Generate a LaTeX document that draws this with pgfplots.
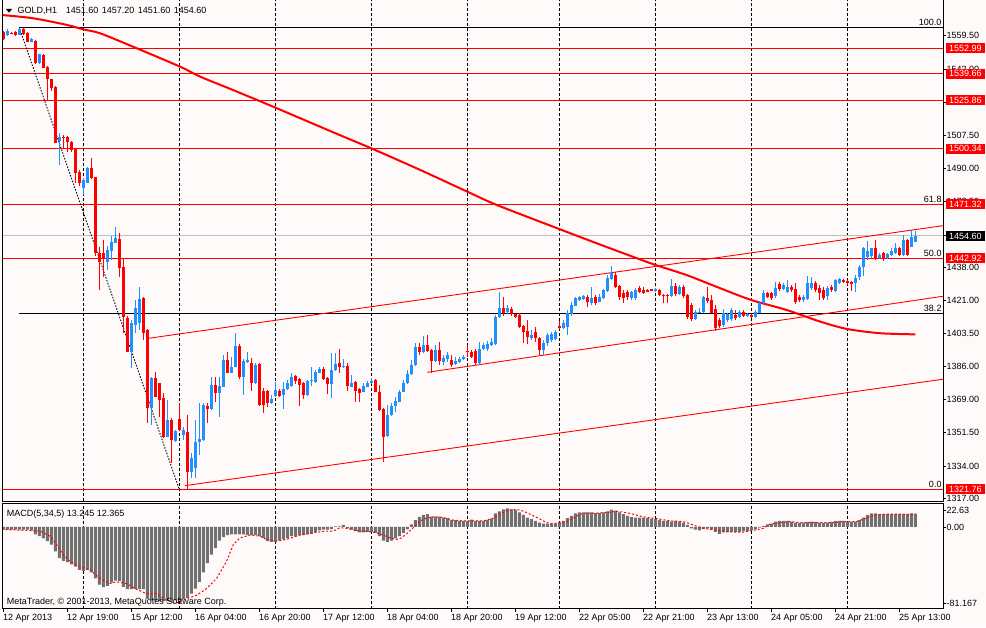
\documentclass[border=0pt]{standalone}
\usepackage{fontspec}
\setmainfont{Liberation Sans}
\usepackage{pgfplots}
\pgfplotsset{compat=1.18}
\usepackage{pgfplotstable}
\newcommand\mtf{\fontsize{9}{10}\selectfont}
\definecolor{bg}{RGB}{255,250,250}
\definecolor{upc}{RGB}{30,144,255}
\definecolor{dnc}{RGB}{255,0,0}
\definecolor{histc}{RGB}{112,112,112}
\definecolor{bidc}{RGB}{192,192,192}

\pgfplotstableread{
i o h l c
1 1559.9 1562.9 1559.4 1562.0
4 1559.9 1563.8 1559.9 1562.9
7 1556.2 1558.2 1556.2 1557.7
9 1545.1 1550.0 1544.7 1549.8
14 1504.4 1508.4 1491.8 1506.6
20 1479.6 1485.0 1476.1 1483.9
21 1482.5 1490.7 1482.4 1490.0
26 1441.1 1449.3 1436.8 1447.2
27 1446.9 1454.6 1442.0 1451.6
28 1451.0 1459.4 1450.7 1453.4
32 1394.0 1410.6 1385.2 1408.8
33 1407.9 1421.0 1403.6 1416.7
34 1408.8 1428.0 1405.3 1421.6
37 1364.3 1380.8 1355.5 1380.0
41 1349.4 1368.6 1349.2 1358.1
43 1347.3 1352.9 1346.8 1352.5
45 1350.3 1354.6 1347.7 1352.9
47 1331.0 1340.8 1327.6 1338.1
48 1333.0 1358.1 1327.6 1346.8
49 1346.8 1366.9 1339.8 1348.0
50 1347.7 1366.9 1347.1 1366.0
52 1363.7 1380.8 1363.4 1376.5
54 1372.1 1380.8 1359.9 1375.9
55 1375.6 1392.2 1375.4 1389.6
57 1382.9 1391.0 1382.8 1386.1
58 1386.1 1403.6 1385.9 1396.9
60 1380.8 1390.1 1371.3 1389.1
61 1388.7 1393.9 1388.0 1389.6
63 1377.6 1387.9 1377.0 1387.0
67 1367.2 1371.3 1366.5 1369.3
68 1370.7 1378.2 1370.2 1373.9
70 1371.3 1378.2 1363.7 1374.2
71 1374.4 1379.1 1373.9 1377.4
72 1375.9 1382.6 1375.4 1380.8
76 1371.3 1379.1 1370.7 1378.7
77 1378.6 1386.1 1376.1 1379.1
78 1378.2 1384.4 1377.5 1383.4
79 1382.9 1386.1 1382.8 1384.7
82 1377.0 1393.1 1369.8 1384.4
83 1384.4 1393.1 1383.8 1387.5
85 1385.8 1390.1 1385.4 1386.6
87 1375.6 1381.7 1375.4 1377.7
90 1372.9 1377.4 1372.8 1375.9
91 1375.6 1378.6 1375.4 1377.4
92 1377.4 1380.0 1377.0 1378.7
96 1349.9 1366.0 1349.2 1360.8
97 1360.8 1366.9 1360.2 1365.5
98 1365.5 1370.0 1362.5 1368.1
99 1367.7 1373.9 1367.6 1372.9
100 1372.9 1379.1 1372.8 1377.7
101 1377.4 1384.4 1377.0 1382.2
102 1382.2 1389.6 1381.7 1387.0
103 1387.0 1398.3 1386.4 1396.2
105 1393.8 1402.2 1393.3 1397.4
108 1389.1 1397.4 1388.5 1394.8
110 1388.7 1392.2 1387.0 1390.8
111 1390.1 1393.8 1388.5 1392.2
113 1387.3 1391.2 1387.0 1389.1
114 1388.4 1391.2 1388.0 1390.1
115 1390.1 1392.2 1389.6 1391.3
119 1387.9 1399.2 1387.0 1395.2
120 1395.2 1398.5 1394.8 1397.4
121 1395.4 1399.5 1394.3 1397.8
122 1397.4 1401.1 1396.9 1399.2
123 1397.8 1413.2 1397.4 1412.3
124 1412.3 1425.1 1411.6 1416.7
126 1414.6 1418.4 1413.7 1416.7
132 1401.3 1405.3 1400.1 1402.7
135 1394.8 1400.1 1392.2 1398.3
136 1398.3 1403.7 1396.9 1402.7
137 1400.1 1404.3 1399.2 1403.0
138 1400.6 1405.3 1400.1 1404.1
140 1406.5 1410.6 1405.8 1408.8
141 1407.0 1415.8 1402.7 1414.0
142 1413.5 1420.0 1412.6 1418.4
143 1418.0 1422.6 1417.9 1421.9
144 1421.0 1423.1 1420.5 1422.8
145 1421.6 1423.6 1421.0 1423.1
147 1419.6 1427.8 1418.4 1422.2
149 1420.2 1424.2 1419.9 1422.8
150 1422.2 1426.8 1421.5 1426.3
151 1425.8 1434.1 1425.2 1432.7
152 1432.0 1439.0 1431.5 1435.0
157 1421.9 1425.8 1421.0 1425.2
158 1422.1 1427.3 1421.0 1426.3
163 1425.9 1427.3 1425.2 1426.6
167 1423.3 1432.2 1422.6 1428.4
169 1424.2 1428.9 1423.6 1428.0
173 1410.9 1415.8 1410.6 1414.6
174 1414.4 1416.8 1414.2 1414.9
175 1414.9 1423.1 1414.4 1422.4
180 1407.9 1416.2 1406.9 1414.1
181 1410.6 1414.2 1409.5 1413.7
182 1410.9 1416.7 1410.0 1415.8
184 1412.3 1415.8 1411.6 1414.9
186 1412.6 1414.2 1412.1 1413.5
188 1412.3 1415.8 1411.6 1414.9
189 1414.4 1420.5 1414.2 1419.6
190 1419.6 1426.3 1418.9 1424.5
193 1423.1 1430.4 1422.1 1427.1
195 1426.6 1430.0 1426.3 1428.9
196 1425.2 1431.5 1424.7 1427.8
200 1421.0 1423.6 1420.0 1422.8
201 1421.6 1433.6 1421.0 1429.8
202 1427.3 1433.1 1426.3 1429.8
206 1423.1 1428.4 1421.0 1427.1
208 1425.9 1432.0 1425.2 1431.5
209 1430.1 1432.5 1429.4 1431.9
213 1429.8 1434.1 1425.2 1432.4
214 1433.1 1439.4 1431.5 1438.3
215 1438.5 1448.8 1433.6 1448.1
216 1443.7 1452.0 1442.0 1446.9
217 1444.1 1448.3 1443.0 1448.1
219 1442.9 1445.7 1442.5 1444.6
221 1443.0 1445.7 1442.5 1445.1
222 1444.5 1448.3 1444.1 1446.9
223 1445.5 1450.9 1445.1 1448.1
225 1444.6 1455.1 1444.1 1452.5
227 1449.0 1457.7 1448.8 1453.9
228 1451.6 1457.2 1451.6 1454.6
}\upbars

\pgfplotstableread{
i o h l c
0 1561.6 1562.0 1557.3 1557.7
2 1561.1 1561.5 1560.2 1560.4
3 1561.5 1562.0 1559.4 1560.1
5 1562.9 1563.4 1559.9 1560.6
6 1561.1 1561.5 1556.2 1556.4
8 1557.0 1557.3 1544.7 1545.1
10 1549.4 1549.7 1542.6 1542.8
11 1543.3 1543.7 1525.8 1536.9
12 1536.9 1536.9 1530.7 1532.0
13 1532.5 1533.2 1503.3 1503.5
15 1506.6 1507.5 1500.7 1505.8
16 1506.6 1507.0 1498.8 1503.7
17 1503.7 1504.4 1498.6 1499.7
18 1500.0 1500.7 1482.4 1487.4
19 1488.3 1489.2 1480.8 1482.2
22 1490.0 1495.3 1484.4 1484.8
23 1485.5 1485.7 1444.1 1445.8
24 1445.8 1448.8 1426.3 1441.1
25 1445.7 1452.5 1433.2 1443.0
29 1453.0 1456.0 1433.2 1437.6
30 1438.5 1443.0 1403.6 1412.3
31 1411.5 1412.6 1393.8 1394.0
35 1422.2 1422.8 1400.1 1403.6
36 1405.3 1405.8 1356.4 1364.3
38 1380.0 1383.4 1370.2 1370.4
39 1377.4 1377.5 1359.9 1368.6
40 1369.5 1372.3 1348.7 1349.4
42 1358.1 1359.2 1335.4 1347.7
44 1358.7 1367.2 1352.4 1352.9
46 1352.0 1360.8 1321.8 1331.0
51 1365.5 1367.2 1356.7 1363.7
53 1376.5 1380.7 1367.7 1372.1
56 1389.6 1393.9 1382.8 1382.9
59 1396.9 1398.0 1379.5 1380.8
62 1388.2 1390.6 1373.3 1377.6
64 1387.3 1388.2 1365.5 1366.0
65 1373.5 1374.9 1362.0 1366.0
66 1373.5 1373.9 1364.8 1367.2
69 1373.3 1374.4 1370.2 1370.7
73 1381.2 1381.7 1376.8 1378.6
74 1379.5 1380.1 1365.5 1376.5
75 1377.4 1378.2 1369.1 1371.3
80 1384.7 1386.1 1379.1 1379.5
81 1380.0 1380.7 1371.6 1377.0
84 1387.9 1395.2 1382.9 1386.1
86 1386.6 1387.9 1373.3 1376.1
88 1378.0 1378.6 1367.7 1373.3
89 1374.2 1374.9 1367.7 1372.5
93 1379.1 1379.5 1372.8 1372.9
94 1372.9 1376.5 1362.9 1363.4
95 1363.7 1364.4 1336.3 1349.4
104 1396.2 1398.5 1392.2 1393.9
106 1397.4 1402.7 1393.8 1394.5
107 1394.8 1395.4 1382.8 1389.1
109 1394.8 1399.0 1387.0 1389.1
112 1389.6 1392.2 1385.9 1387.0
116 1394.3 1397.4 1391.2 1393.8
117 1393.8 1394.8 1390.6 1391.3
118 1394.5 1395.4 1387.0 1387.9
125 1416.7 1422.6 1412.6 1414.1
127 1416.3 1417.4 1412.6 1413.7
128 1413.7 1413.8 1411.6 1412.3
129 1413.2 1414.2 1406.4 1407.0
130 1407.4 1407.9 1398.3 1404.4
131 1404.8 1410.6 1398.0 1401.8
133 1404.1 1406.9 1399.0 1400.9
134 1400.9 1401.6 1392.2 1394.8
139 1407.6 1410.0 1405.8 1406.5
146 1422.8 1423.6 1417.4 1419.8
148 1422.4 1423.6 1418.4 1419.6
153 1434.1 1435.7 1427.3 1428.0
154 1428.5 1428.9 1421.0 1422.8
155 1424.5 1426.3 1419.5 1421.9
156 1425.0 1426.0 1421.0 1422.5
159 1427.1 1428.6 1424.7 1425.4
160 1426.3 1428.0 1424.2 1424.5
161 1426.3 1426.8 1425.2 1425.4
162 1426.6 1427.0 1425.5 1425.8
164 1426.3 1426.8 1423.1 1423.7
165 1423.7 1424.2 1419.3 1423.1
166 1423.7 1423.9 1419.5 1423.1
168 1428.4 1430.0 1423.1 1424.2
170 1428.0 1428.9 1422.1 1423.1
171 1423.7 1424.2 1411.1 1412.3
172 1418.4 1419.5 1410.0 1410.9
176 1421.9 1428.0 1419.5 1420.5
177 1421.0 1423.6 1414.1 1414.4
178 1416.2 1418.4 1404.8 1406.2
179 1410.6 1411.6 1406.4 1407.4
183 1413.2 1415.8 1410.6 1411.5
185 1414.9 1415.8 1412.1 1412.6
187 1413.3 1413.7 1411.6 1412.0
191 1424.5 1425.2 1422.1 1422.8
192 1424.5 1425.2 1421.0 1421.9
194 1429.2 1430.4 1425.7 1426.6
197 1427.8 1428.9 1425.2 1426.3
198 1426.8 1430.0 1419.0 1420.0
199 1422.6 1423.6 1420.0 1421.0
203 1429.8 1431.0 1425.2 1426.3
204 1427.1 1428.9 1421.0 1424.5
205 1426.3 1427.8 1421.0 1421.9
207 1428.0 1428.9 1425.2 1426.3
210 1431.5 1432.0 1430.0 1430.6
211 1431.2 1431.5 1428.9 1429.8
212 1430.6 1431.0 1425.9 1429.4
218 1448.1 1452.5 1442.0 1442.4
220 1445.5 1446.2 1441.5 1442.4
224 1448.1 1448.8 1444.1 1444.6
226 1452.5 1453.0 1444.1 1444.6
}\dnbars

\pgfplotstableread{
i m
0 -2.7
1 -2.7
2 -2.7
3 -2.7
4 -2.7
5 -2.7
6 -2.7
7 -3.3
8 -7.3
9 -9
10 -11.3
11 -14
12 -17.3
13 -24
14 -30.7
15 -33.3
16 -34.7
17 -36.7
18 -39
19 -42.3
20 -43.3
21 -42.3
22 -44.7
23 -50.7
24 -56.7
25 -59.3
26 -58
27 -54.7
28 -52.7
29 -53.3
30 -59
31 -61.3
32 -61.3
33 -61.3
34 -61.3
35 -61.3
36 -70.7
37 -72.3
38 -72.6
39 -73
40 -73.3
41 -73
42 -72.6
43 -72.3
44 -72.3
45 -70.7
46 -70
47 -65.7
48 -60.7
49 -54
50 -44.7
51 -35.7
52 -27.3
53 -20.7
54 -13.3
55 -10
56 -8
57 -7.3
58 -7.3
59 -7.3
60 -7.3
61 -8
62 -8
63 -8
64 -9
65 -10.7
66 -14
67 -14.7
68 -14.7
69 -13.3
70 -12.3
71 -11.3
72 -9
73 -9
74 -8
75 -8
76 -7.3
77 -6.7
78 -5
79 -3.3
80 -2.7
81 -2.7
82 -2
83 0.7
84 0.7
85 2
86 -1.3
87 -2.7
88 -4
89 -5.3
90 -5.3
91 -4.7
92 -4.7
93 -5.7
94 -9
95 -13.3
96 -14.7
97 -13.3
98 -11.3
99 -9
100 -5.7
101 -2.3
102 2.7
103 6.7
104 10
105 12
106 12.7
107 10.3
108 10.3
109 10.3
110 9.3
111 8.7
112 6.7
113 6.7
114 6
115 6
116 6
117 7.3
118 6
119 6
120 6
121 6.7
122 8.3
123 13.3
124 15.3
125 17.3
126 18.3
127 17.3
128 16.7
129 14.3
130 12
131 9.3
132 7.7
133 6
134 4.3
135 3.3
136 3.3
137 3.3
138 3.3
139 4.7
140 6
141 8.7
142 11
143 13.3
144 14.3
145 14.3
146 14.3
147 14.3
148 13.7
149 13.7
150 14.3
151 15.3
152 17
153 16
154 14.3
155 12.7
156 11
157 9.7
158 9.3
159 9.3
160 9.3
161 8.7
162 8.3
163 7.7
164 6.7
165 6
166 6
167 5.3
168 6
169 5.3
170 4.3
171 2
172 -1.3
173 -2.7
174 -3.3
175 -2
176 -1.3
177 -2.7
178 -4.7
179 -6.7
180 -5.3
181 -5.3
182 -4.7
183 -4.7
184 -4.7
185 -4
186 -4
187 -3.3
188 -2.3
189 -0.7
190 1
191 2.7
192 3.3
193 5.3
194 6
195 6
196 6
197 5.3
198 4.3
199 4
200 4.3
201 4.7
202 5.3
203 5
204 4.3
205 4
206 4.3
207 5
208 5.7
209 6
210 6
211 5.3
212 5
213 5.3
214 6.7
215 9.3
216 12
217 13.3
218 13.3
219 12.7
220 12.7
221 12.7
222 12.7
223 12.7
224 12.7
225 12.7
226 12.7
227 13.3
228 13.2
}\macd

\pgfplotstableread{
i s
-0.5 -2.3
9.2 -4
11.7 -9
13.3 -17.3
15 -27.3
16.7 -34
19.2 -39
21.7 -42.3
24.2 -50.7
26.7 -55.7
28.3 -54
30.8 -55.7
33.3 -61.3
35.8 -65.7
38.3 -65.7
40.8 -72.3
43.3 -74.7
45.8 -70.7
48.3 -67.3
50.8 -60.7
53.3 -50.7
55.8 -34
57.5 -17.3
59.2 -10.7
61.7 -8
64.2 -9
65.8 -12.3
68.3 -14
70.8 -12.3
72.5 -10
74.2 -8
77.5 -5.7
80.8 -4
82.5 -4
84.2 -0.7
85.8 -1.3
87.5 -2.7
89.2 -4
91.7 -4.7
93.3 -5.7
95 -8
96.7 -10.7
98.3 -12.3
99.6 -10.7
100.8 -6.7
102.5 -0.7
104.2 6
105.8 8.7
107.5 10
110 9.3
112.5 6.7
115 6
120 6
122.5 8.7
124.2 12.7
125.8 16
127.5 17.3
129.2 16.7
130.8 14.3
132.5 11
134.2 7.7
135.8 4.3
137.5 3.3
139.2 4.3
140.8 5.3
142.5 8.7
144.2 12.7
145.8 13.7
148.3 13.7
150.8 14.3
153.3 15.3
155 14.7
156.7 13.3
160 10
163.3 8.3
166.7 6
170 5.3
172.5 2
175 -1.3
177.5 -2.7
180 -4
182.5 -5
185 -5
187.5 -3.3
190 -1.3
191.7 2.7
194.2 4.3
196.7 5.3
199.2 4.3
203.3 4.3
207.5 4.3
210 5.3
213.3 5.3
215 7.7
216.7 10.3
218.3 12
221.7 12.7
228 12.4
}\signal

\pgfplotstableread{
i ma
-0.5 1570.4
7.4 1568.7
15.9 1565.2
19.9 1562.9
24.2 1560.8
32.4 1553.8
44.2 1543.3
49.2 1538.1
57.4 1531.1
68.4 1521.5
81.7 1509.6
92.0 1500.5
104.2 1489.2
116.0 1477.8
123.4 1470.8
139.0 1458.2
148.4 1450.7
158.4 1442.9
163.0 1439.4
170.8 1434.1
179.2 1427.2
187.0 1421.0
195.8 1415.8
204.2 1409.7
211.0 1405.8
219.2 1403.6
228.0 1403.0
}\maline

\pgfplotsset{
  mtpanel/.style={
    scale only axis, width=941pt,
    xmin=-0.25, xmax=235,
    axis line style={draw=none},
    clip=true,
    tick align=outside,
    major tick length=3pt,
    every tick/.style={black, line width=0.8pt},
    ytick pos=right, yticklabel pos=right,
    yticklabel style={font=\mtf, inner sep=0pt, anchor=west, xshift=0pt},
  },
  gridv/.style={black, line width=0.8pt, dash pattern=on 3pt off 2pt, forget plot},
  candle/.style 2 args={draw=none, no markers, forget plot,
    error bars/.cd, y dir=plus, y explicit, error mark=none,
    error bar style={draw=#1, line width=#2}},
}

\begin{document}
\begin{tikzpicture}[x=1pt,y=1pt]
\fill[bg] (0,0) rectangle (986,627);
\useasboundingbox (0,0) rectangle (986,627);

% ---------------- main price panel ----------------
\begin{axis}[mtpanel,
  at={(2.3pt,125.7pt)}, anchor=south west,
  height=501.3pt,
  ymin=1315.5, ymax=1578.26,
  xtick=\empty,
  ytick={1559.5,1542,1507.5,1490,1472.5,1438,1421,1403.5,1386,1369,1351.5,1334,1317},
  yticklabels={1559.50,1542.00,1507.50,1490.00,1472.50,1438.00,1421.00,1403.50,1386.00,1369.00,1351.50,1334.00,1317.00},
  extra y ticks={1524.5,1455},
  extra y tick labels={},
]
\pgfplotsinvokeforeach{20,44,68,92,116,139,163,187,211}{
  \addplot[gridv] coordinates {(#1,1315.5) (#1,1578.26)};
}
\pgfplotsinvokeforeach{1552.99,1539.66,1525.86,1500.34,1471.32,1442.92,1321.76}{
  \addplot[dnc, line width=0.9pt, forget plot] coordinates {(-0.25,#1) (235,#1)};
}
\addplot[bidc, line width=0.9pt, forget plot] coordinates {(-0.25,1454.6) (235,1454.6)};
% Fibonacci levels and trend line
\addplot[black, line width=0.9pt, forget plot] coordinates {(4,1563.76) (235,1563.76)};
\addplot[black, line width=0.9pt, forget plot] coordinates {(4,1414.2) (235,1414.2)};
\addplot[black, line width=0.9pt, dash pattern=on 1.5pt off 1.5pt, forget plot] coordinates {(4,1563.76) (44,1321.76)};
% channel lines
\addplot[dnc, line width=0.9pt, forget plot] coordinates {(36.2,1400.9) (235,1460.0)};
\addplot[dnc, line width=0.9pt, forget plot] coordinates {(106.0,1383.1) (235,1423.0)};
\addplot[dnc, line width=0.9pt, forget plot] coordinates {(45.4,1323.7) (235,1379.5)};
% moving average
\addplot[dnc, line width=2pt, smooth, forget plot] table[x=i, y=ma] {\maline};
% candles: wicks
\addplot[candle={upc}{1pt}]
  table[x=i, y=l, y error expr=\thisrow{h}-\thisrow{l}] {\upbars};
\addplot[candle={dnc}{1pt}]
  table[x=i, y=l, y error expr=\thisrow{h}-\thisrow{l}] {\dnbars};
% candles: bodies
\addplot[candle={upc}{3pt}]
  table[x=i, y=o, y error expr=\thisrow{c}-\thisrow{o}] {\upbars};
\addplot[candle={dnc}{3pt}]
  table[x=i, y=c, y error expr=\thisrow{o}-\thisrow{c}] {\dnbars};
% fib level labels
\node[font=\mtf, anchor=base east, inner sep=0pt] at ([xshift=-1.6pt,yshift=1.8pt]axis cs:235,1563.76) {100.0};
\node[font=\mtf, anchor=base east, inner sep=0pt] at ([xshift=-1.6pt,yshift=1.8pt]axis cs:235,1471.32) {61.8};
\node[font=\mtf, anchor=base east, inner sep=0pt] at ([xshift=-1.6pt,yshift=1.8pt]axis cs:235,1442.92) {50.0};
\node[font=\mtf, anchor=base east, inner sep=0pt] at ([xshift=-1.6pt,yshift=1.8pt]axis cs:235,1414.2) {38.2};
\node[font=\mtf, anchor=base east, inner sep=0pt] at ([xshift=-1.6pt,yshift=1.8pt]axis cs:235,1321.76) {0.0};
\coordinate (T1) at (axis cs:235,1552.99);
\coordinate (T2) at (axis cs:235,1539.66);
\coordinate (T3) at (axis cs:235,1525.86);
\coordinate (T4) at (axis cs:235,1500.34);
\coordinate (T5) at (axis cs:235,1471.32);
\coordinate (T6) at (axis cs:235,1442.92);
\coordinate (T7) at (axis cs:235,1321.76);
\coordinate (TB) at (axis cs:235,1454.6);
\end{axis}
\draw[black, line width=0.9pt] (2.3,627) -- (2.3,125.7) -- (943.3,125.7) -- (943.3,627);

% price tags
\foreach \n/\v in {T1/1552.99,T2/1539.66,T3/1525.86,T4/1500.34,T5/1471.32,T6/1442.92,T7/1321.76}{
  \node[anchor=west, fill=dnc, text=white, font=\mtf, inner xsep=3.3pt, inner ysep=1.8pt,
        text height=6.4pt, text depth=0pt] at ([xshift=2.2pt]\n) {\v};
}
\node[anchor=west, fill=black, text=white, font=\mtf, inner xsep=3.3pt, inner ysep=1.8pt,
      text height=6.4pt, text depth=0pt] at ([xshift=2.2pt]TB) {1454.60};

% title
\fill[black] (6,618) -- (12,618) -- (9,614.3) -- cycle;
\node[font=\mtf, anchor=base west, inner sep=0pt] at (17.3,613) {GOLD,H1};
\node[font=\mtf, anchor=base west, inner sep=0pt] at (65.7,613) {1451.60\hspace{3.5pt}1457.20\hspace{3.5pt}1451.60\hspace{3.5pt}1454.60};

% ---------------- MACD panel ----------------
\begin{axis}[mtpanel,
  at={(2.3pt,18.3pt)}, anchor=south west,
  height=105.4pt,
  ymin=-80.46, ymax=23.34,
  xtick={0,16,...,224},
  xticklabels={12 Apr 2013,12 Apr 19:00,15 Apr 12:00,16 Apr 04:00,16 Apr 20:00,17 Apr 12:00,18 Apr 04:00,18 Apr 20:00,19 Apr 12:00,22 Apr 05:00,22 Apr 21:00,23 Apr 13:00,24 Apr 05:00,24 Apr 21:00,25 Apr 13:00},
  xtick pos=bottom,
  xticklabel style={font=\mtf, anchor=north west, inner sep=0pt, xshift=-0.3pt, yshift=-2pt},
  ytick={16.4,0,-75.1},
  yticklabels={22.63,0.00,-81.167},
]
\pgfplotsinvokeforeach{20,44,68,92,116,139,163,187,211}{
  \addplot[gridv] coordinates {(#1,-80.46) (#1,23.34)};
}
\addplot[ybar, bar width=3pt, fill=histc, draw=none, forget plot] table[x=i, y=m] {\macd};
\addplot[dnc, line width=1pt, dash pattern=on 2pt off 2pt, forget plot] table[x=i, y=s] {\signal};
\end{axis}
\draw[black, line width=0.9pt] (2.3,18.3) rectangle (943.3,123.7);

\node[font=\mtf, anchor=base west, inner sep=0pt] at (6.7,110.7) {MACD(5,34,5) 13.245 12.365};
\node[font=\mtf, anchor=base west, inner sep=0pt] at (6.7,22.3) {MetaTrader, © 2001-2013, MetaQuotes Software Corp.};
\end{tikzpicture}
\end{document}
